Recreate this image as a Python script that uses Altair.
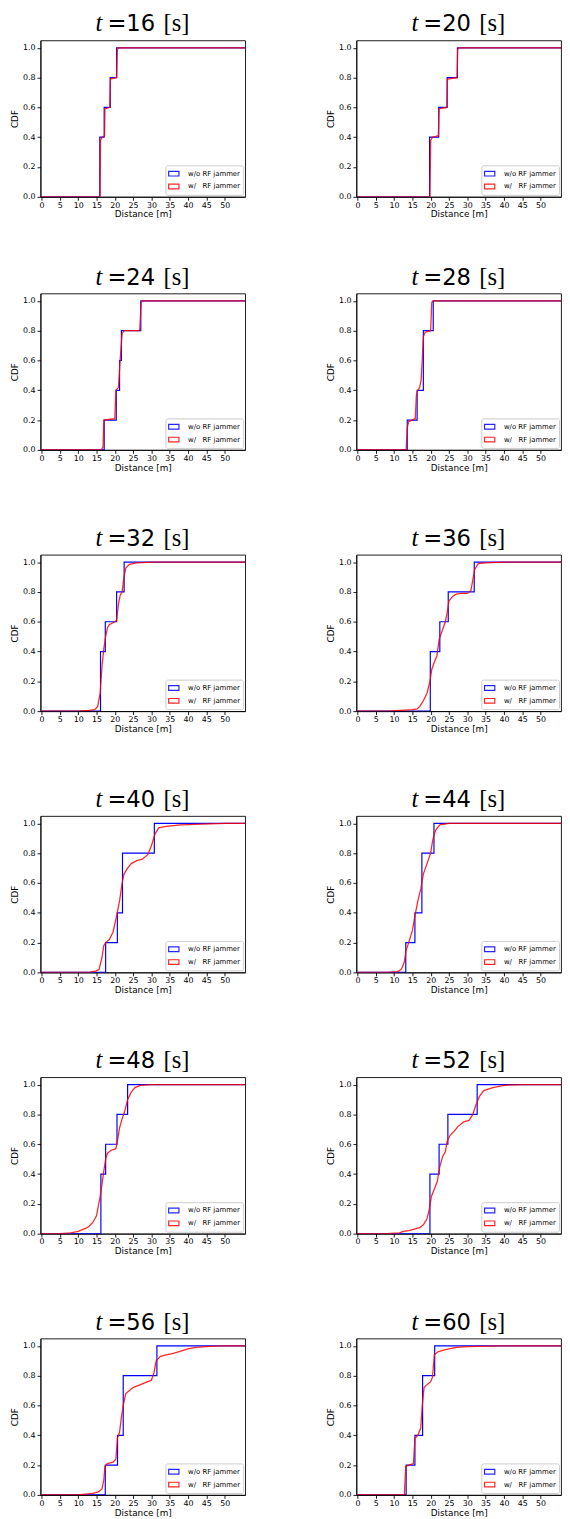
import altair as alt
import pandas as pd

LAB_WO = "w/o RF jammer"
LAB_W = "w/\u00a0\u00a0 RF jammer"

times = [16, 20, 24, 28, 32, 36, 40, 44, 48, 52, 56, 60]

# ---- w/o RF jammer (blue step CDF): jump positions and levels ----
wo_x_16 = [0, 15.9, 17.1, 18.75, 20.5, 56]
wo_y_16 = [0, 0.4, 0.6, 0.8, 1.0, 1.0]
wo_x_20 = [0, 19.7, 22.2, 24.5, 27.3, 56]
wo_y_20 = [0, 0.4, 0.6, 0.8, 1.0, 1.0]
wo_x_24 = [0, 17.1, 20.4, 21.3, 21.8, 27.1, 56]
wo_y_24 = [0, 0.2, 0.4, 0.6, 0.8, 1.0, 1.0]
wo_x_28 = [0, 13.6, 16.3, 18.0, 20.7, 56]
wo_y_28 = [0, 0.2, 0.4, 0.8, 1.0, 1.0]
wo_x_32 = [0, 16.1, 17.4, 20.5, 22.55, 56]
wo_y_32 = [0, 0.4, 0.6, 0.8, 1.0, 1.0]
wo_x_36 = [0, 19.9, 22.5, 24.8, 31.9, 56]
wo_y_36 = [0, 0.4, 0.6, 0.8, 1.0, 1.0]
wo_x_40 = [0, 17.5, 20.7, 22.1, 30.8, 56]
wo_y_40 = [0, 0.2, 0.4, 0.8, 1.0, 1.0]
wo_x_44 = [0, 13.2, 15.7, 17.6, 20.9, 56]
wo_y_44 = [0, 0.2, 0.4, 0.8, 1.0, 1.0]
wo_x_48 = [0, 16.2, 17.5, 20.6, 23.5, 56]
wo_y_48 = [0, 0.4, 0.6, 0.8, 1.0, 1.0]
wo_x_52 = [0, 19.8, 22.3, 24.7, 32.7, 56]
wo_y_52 = [0, 0.4, 0.6, 0.8, 1.0, 1.0]
wo_x_56 = [0, 17.4, 20.75, 22.3, 31.5, 56]
wo_y_56 = [0, 0.2, 0.4, 0.8, 1.0, 1.0]
wo_x_60 = [0, 13.3, 15.7, 17.8, 21.1, 56]
wo_y_60 = [0, 0.2, 0.4, 0.8, 1.0, 1.0]

# ---- w/ RF jammer (red empirical CDF) ----
w_x_16 = [0, 16.0, 16.1, 16.6, 17.2, 17.3, 18.6, 18.8, 20.5, 20.7, 21.0, 56]
w_y_16 = [0, 0, 0.38, 0.40, 0.41, 0.59, 0.60, 0.79, 0.80, 0.99, 1.0, 1.0]
w_x_20 = [0, 19.8, 20.0, 20.5, 22.1, 22.3, 24.4, 24.6, 27.2, 27.4, 27.8, 56]
w_y_20 = [0, 0, 0.38, 0.40, 0.41, 0.59, 0.60, 0.79, 0.80, 0.99, 1.0, 1.0]
w_x_24 = [0, 16.3, 16.8, 17.0, 20.0, 20.3, 21.0, 21.5, 22.0, 22.5, 26.8, 27.2, 27.5, 56]
w_y_24 = [0, 0, 0.02, 0.2, 0.21, 0.4, 0.42, 0.62, 0.78, 0.8, 0.8, 0.99, 1.0, 1.0]
w_x_28 = [0, 13.3, 13.6, 14.0, 15.8, 16.1, 16.5, 17.0, 17.4, 17.7, 18.0, 18.5, 20.0, 20.3, 20.7, 56]
w_y_28 = [0, 0, 0.15, 0.19, 0.21, 0.37, 0.40, 0.42, 0.47, 0.6, 0.76, 0.79, 0.8, 0.99, 1.0, 1.0]
w_x_32 = [0, 10, 13, 14.5, 15.3, 16, 16.5, 17, 17.5, 18, 18.5, 20, 20.5, 21, 21.5, 22, 22.5, 23, 24, 26, 30, 56]
w_y_32 = [0, 0, 0.005, 0.01, 0.03, 0.12, 0.3, 0.42, 0.5, 0.56, 0.58, 0.6, 0.61, 0.72, 0.78, 0.8, 0.9, 0.96, 0.985, 0.995, 1.0, 1.0]
w_x_36 = [0, 8, 12, 15, 16.3, 17, 18, 19, 19.8, 20.3, 21, 21.7, 22.3, 23, 24, 24.5, 25, 26, 27, 28.5, 30, 31, 31.5, 32, 33, 35, 40, 56]
w_y_36 = [0, 0, 0.005, 0.01, 0.015, 0.03, 0.07, 0.12, 0.2, 0.28, 0.33, 0.37, 0.48, 0.53, 0.6, 0.66, 0.74, 0.77, 0.785, 0.79, 0.79, 0.81, 0.88, 0.95, 0.99, 0.995, 1.0, 1.0]
w_x_40 = [0, 13, 15, 15.7, 16.5, 17, 17.5, 18.5, 19.5, 20.5, 21.3, 22, 22.5, 23.5, 24.5, 26, 27.5, 29, 30, 31, 32, 34, 38, 44, 50, 56]
w_y_40 = [0, 0, 0.01, 0.02, 0.1, 0.18, 0.2, 0.22, 0.27, 0.38, 0.48, 0.6, 0.66, 0.7, 0.73, 0.75, 0.76, 0.79, 0.85, 0.93, 0.97, 0.98, 0.99, 0.995, 1.0, 1.0]
w_x_44 = [0, 8, 11, 12, 12.8, 13.3, 14, 15, 15.7, 16.5, 17.3, 18, 19, 20, 20.5, 21, 21.5, 22.5, 25, 56]
w_y_44 = [0, 0, 0.005, 0.02, 0.07, 0.15, 0.2, 0.28, 0.38, 0.48, 0.56, 0.66, 0.73, 0.8, 0.88, 0.93, 0.96, 0.99, 1.0, 1.0]
w_x_48 = [0, 5, 8, 10, 11, 12, 13, 14, 15, 16, 16.5, 17, 17.5, 18, 19, 20.3, 20.7, 21.3, 22, 22.8, 23.5, 24.5, 25.5, 27, 30, 56]
w_y_48 = [0, 0, 0.005, 0.015, 0.025, 0.035, 0.05, 0.075, 0.12, 0.25, 0.33, 0.42, 0.5, 0.54, 0.56, 0.57, 0.62, 0.71, 0.77, 0.83, 0.9, 0.95, 0.98, 0.995, 1.0, 1.0]
w_x_52 = [0, 8, 11.5, 12.5, 14, 15.5, 17, 18, 19, 19.6, 20.2, 21, 21.8, 22.5, 23.3, 24, 24.5, 25.3, 26.5, 27.5, 29, 30.5, 31.5, 32.3, 33.3, 34.5, 37, 40, 45, 56]
w_y_52 = [0, 0, 0.005, 0.015, 0.02, 0.03, 0.04, 0.06, 0.1, 0.16, 0.25, 0.3, 0.35, 0.45, 0.52, 0.55, 0.62, 0.66, 0.69, 0.72, 0.75, 0.76, 0.8, 0.86, 0.92, 0.96, 0.98, 0.995, 1.0, 1.0]
w_x_56 = [0, 10, 12, 14, 15.5, 16.5, 17, 17.3, 18, 19.5, 20.3, 20.7, 21.3, 21.8, 22.3, 23, 24, 25, 27, 28.5, 30, 30.7, 31.3, 32.5, 34, 36, 38, 40, 42, 46, 50, 56]
w_y_56 = [0, 0, 0.005, 0.01, 0.02, 0.04, 0.1, 0.19, 0.21, 0.22, 0.24, 0.38, 0.42, 0.52, 0.6, 0.68, 0.7, 0.72, 0.74, 0.755, 0.77, 0.82, 0.9, 0.93, 0.94, 0.95, 0.965, 0.98, 0.99, 0.997, 1.0, 1.0]
w_x_60 = [0, 12.8, 13.2, 14, 15.3, 15.7, 16.5, 17.3, 17.7, 18.2, 19, 20, 20.5, 21, 22, 24, 27, 30, 40, 56]
w_y_60 = [0, 0, 0.19, 0.2, 0.21, 0.38, 0.4, 0.45, 0.6, 0.72, 0.74, 0.76, 0.79, 0.94, 0.96, 0.975, 0.99, 0.995, 1.0, 1.0]

wo_x = [wo_x_16, wo_x_20, wo_x_24, wo_x_28, wo_x_32, wo_x_36, wo_x_40, wo_x_44, wo_x_48, wo_x_52, wo_x_56, wo_x_60]
wo_y = [wo_y_16, wo_y_20, wo_y_24, wo_y_28, wo_y_32, wo_y_36, wo_y_40, wo_y_44, wo_y_48, wo_y_52, wo_y_56, wo_y_60]
w_x = [w_x_16, w_x_20, w_x_24, w_x_28, w_x_32, w_x_36, w_x_40, w_x_44, w_x_48, w_x_52, w_x_56, w_x_60]
w_y = [w_y_16, w_y_20, w_y_24, w_y_28, w_y_32, w_y_36, w_y_40, w_y_44, w_y_48, w_y_52, w_y_56, w_y_60]

x_ticks = [0, 5, 10, 15, 20, 25, 30, 35, 40, 45, 50]
y_ticks = [0.0, 0.2, 0.4, 0.6, 0.8, 1.0]

W, H = 208, 159


def panel(t, bx, by, rx, ry):
    blue = pd.DataFrame({"x": bx, "y": by, "s": LAB_WO})
    red = pd.DataFrame({"x": rx, "y": ry, "s": LAB_W})
    color = alt.Color(
        "s:N",
        scale=alt.Scale(domain=[LAB_WO, LAB_W], range=["#0000ff", "#ff0000"]),
        legend=alt.Legend(
            title=None, orient="bottom-right", offset=2, padding=3,
            strokeColor="#cccccc", fillColor="white", cornerRadius=2,
            labelFont="DejaVu Sans", labelFontSize=7, labelColor="black",
            symbolType="M-1.1,-0.5H1.1V0.5H-1.1Z", symbolSize=90,
            symbolStrokeWidth=1.2, symbolFillColor="white",
            labelOffset=9, rowPadding=2,
        ),
    )
    xenc = alt.X(
        "x:Q",
        scale=alt.Scale(domain=[-0.3, 55.6], nice=False, zero=False),
        axis=alt.Axis(values=x_ticks, title="Distance [m]", format="d",
                      labelPadding=1, titlePadding=1),
    )
    yenc = alt.Y(
        "y:Q",
        scale=alt.Scale(domain=[0, 1.05], nice=False),
        axis=alt.Axis(values=y_ticks, title="CDF", format=".1f"),
    )
    l_blue = alt.Chart(blue).mark_line(
        interpolate="step-after", strokeWidth=1.2, clip=True
    ).encode(x=xenc, y=yenc, color=color)
    l_red = alt.Chart(red).mark_line(
        strokeWidth=1.3, clip=True, opacity=0.85
    ).encode(x=xenc, y=yenc, color=color)

    tdf = pd.DataFrame({"a": ["t"], "b": ["=" + str(t)], "c": ["[s]"]})
    base_y = -9.0
    t1 = alt.Chart(tdf).mark_text(
        font="Liberation Serif", fontStyle="italic", fontSize=25,
        align="left", baseline="alphabetic", color="black"
    ).encode(text="a:N", x=alt.value(56), y=alt.value(base_y))
    t2 = alt.Chart(tdf).mark_text(
        font="DejaVu Sans", fontSize=23, align="left",
        baseline="alphabetic", color="black"
    ).encode(text="b:N", x=alt.value(68), y=alt.value(base_y))
    t3 = alt.Chart(tdf).mark_text(
        font="Liberation Serif", fontSize=25, align="left",
        baseline="alphabetic", color="black"
    ).encode(text="c:N", x=alt.value(125), y=alt.value(base_y))

    return alt.layer(l_blue, l_red, t1, t2, t3).properties(width=W, height=H)


panels = [panel(times[i], wo_x[i], wo_y[i], w_x[i], w_y[i]) for i in range(12)]
rows = [
    alt.hconcat(panels[2 * r], panels[2 * r + 1], spacing=81).resolve_scale(color="independent")
    for r in range(6)
]

# x-axis block is 3px shorter now, so add it back to the row gaps
lower = alt.vconcat(*rows[1:], spacing=53.5).resolve_scale(color="independent")

chart = (
    alt.vconcat(rows[0], lower, spacing=45.2)
    .resolve_scale(color="independent")
    .properties(padding={"left": 2, "top": -9.5, "right": 0, "bottom": 0})
    .configure_view(stroke="black", strokeWidth=0.9)
    .configure_axis(
        grid=False, domainColor="black", domainWidth=0.9, tickColor="black",
        tickSize=3.5, tickWidth=0.9, labelFont="DejaVu Sans", labelFontSize=8,
        labelColor="black", titleFont="DejaVu Sans", titleFontSize=9,
        titleFontWeight="normal", titleColor="black", labelPadding=2, titlePadding=3,
    )
)

chart.save("out.html", embed_options={"renderer": "svg", "actions": False})
